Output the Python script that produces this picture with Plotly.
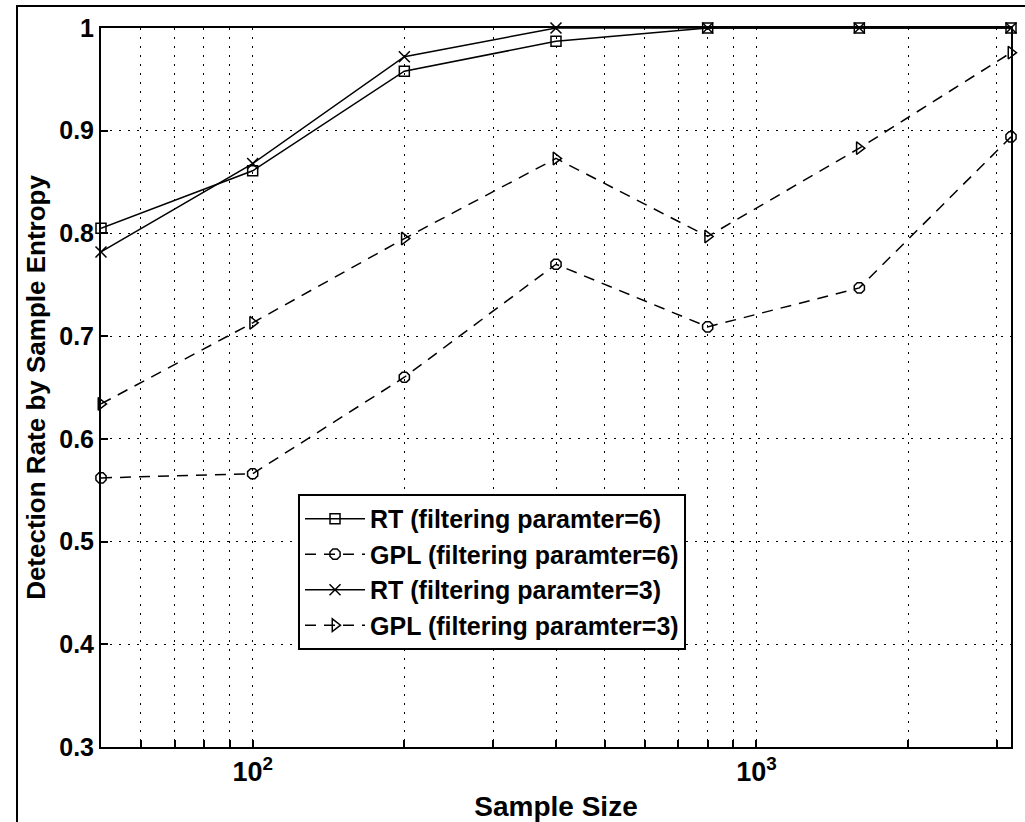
import plotly.graph_objects as go

# Sample sizes (log-scaled x axis)
sample_size = [50, 100, 200, 400, 800, 1600, 3200]

# Detection rates for each method / filtering parameter
rt_p6 = [0.805, 0.861, 0.958, 0.987, 1.0, 1.0, 1.0]
gpl_p6 = [0.562, 0.566, 0.660, 0.770, 0.709, 0.747, 0.894]
rt_p3 = [0.782, 0.868, 0.972, 1.0, 1.0, 1.0, 1.0]
gpl_p3 = [0.634, 0.713, 0.795, 0.873, 0.797, 0.883, 0.976]

series_names = [
    "RT (filtering paramter=6)",
    "GPL (filtering paramter=6)",
    "RT (filtering paramter=3)",
    "GPL (filtering paramter=3)",
]

# x grid/tick positions (log decades with minor subdivisions)
x_tick_vals = [60, 70, 80, 90, 100, 200, 300, 400, 500, 600, 700, 800, 900,
               1000, 2000, 3000]
x_tick_text = ["", "", "", "", "10<sup>2</sup>", "", "", "", "", "", "", "", "",
               "10<sup>3</sup>", "", ""]
y_tick_vals = [0.3, 0.4, 0.5, 0.6, 0.7, 0.8, 0.9, 1.0]
y_tick_text = ["0.3", "0.4", "0.5", "0.6", "0.7", "0.8", "0.9", "1"]

FONT = "Liberation Sans"
DASH = "11px,8px"

styles = [
    dict(symbol="square-open", dash="solid", size=10),
    dict(symbol="octagon-open", dash=DASH, size=11),
    dict(symbol="x-thin-open", dash="solid", size=11),
    dict(symbol="triangle-right-open", dash=DASH, size=11),
]

fig = go.Figure()
for name, ys, st in zip(series_names, [rt_p6, gpl_p6, rt_p3, gpl_p3], styles):
    fig.add_trace(go.Scatter(
        x=sample_size, y=ys, name=name, mode="lines+markers",
        line=dict(color="black", width=1.5, dash=st["dash"]),
        marker=dict(symbol=st["symbol"], size=st["size"], color="black",
                    line=dict(color="black", width=1.5)),
        cliponaxis=False,
    ))

axis_common = dict(
    showline=True, linecolor="black", linewidth=2, mirror=True,
    showgrid=True, gridcolor="black", gridwidth=1, griddash="2px,7px",
    ticks="inside", ticklen=7, tickcolor="black", tickwidth=1.5,
    zeroline=False, automargin=False,
)

fig.update_xaxes(
    type="log", range=[1.69897, 3.50515],
    tickmode="array", tickvals=x_tick_vals, ticktext=x_tick_text,
    tickfont=dict(family=FONT, size=27, color="black", weight="bold"),
    title=dict(text="Sample Size", standoff=10,
               font=dict(family=FONT, size=28, color="black", weight="bold")),
    **axis_common,
)
fig.update_yaxes(
    range=[0.3, 1.0],
    tickmode="array", tickvals=y_tick_vals, ticktext=y_tick_text,
    tickfont=dict(family=FONT, size=25, color="black", weight="bold"),
    title=dict(text="Detection Rate by Sample Entropy", standoff=6,
               font=dict(family=FONT, size=26, color="black", weight="bold")),
    **axis_common,
)

# Outer figure frame
fig.add_shape(type="rect", xref="paper", yref="paper",
              x0=-0.0923, x1=1.2, y0=-0.3, y1=1.0306,
              line=dict(color="black", width=2), layer="above")

fig.update_layout(
    width=1025, height=822,
    margin=dict(l=101, r=14, t=28, b=75),
    plot_bgcolor="white", paper_bgcolor="white",
    font=dict(family=FONT, color="black"),
    legend=dict(
        x=0.2165, y=0.352, xanchor="left", yanchor="top",
        bgcolor="white", bordercolor="black", borderwidth=2,
        font=dict(family=FONT, size=25, color="black", weight="bold"),
        tracegroupgap=0, itemwidth=60,
    ),
)

fig.write_html("out.html")
